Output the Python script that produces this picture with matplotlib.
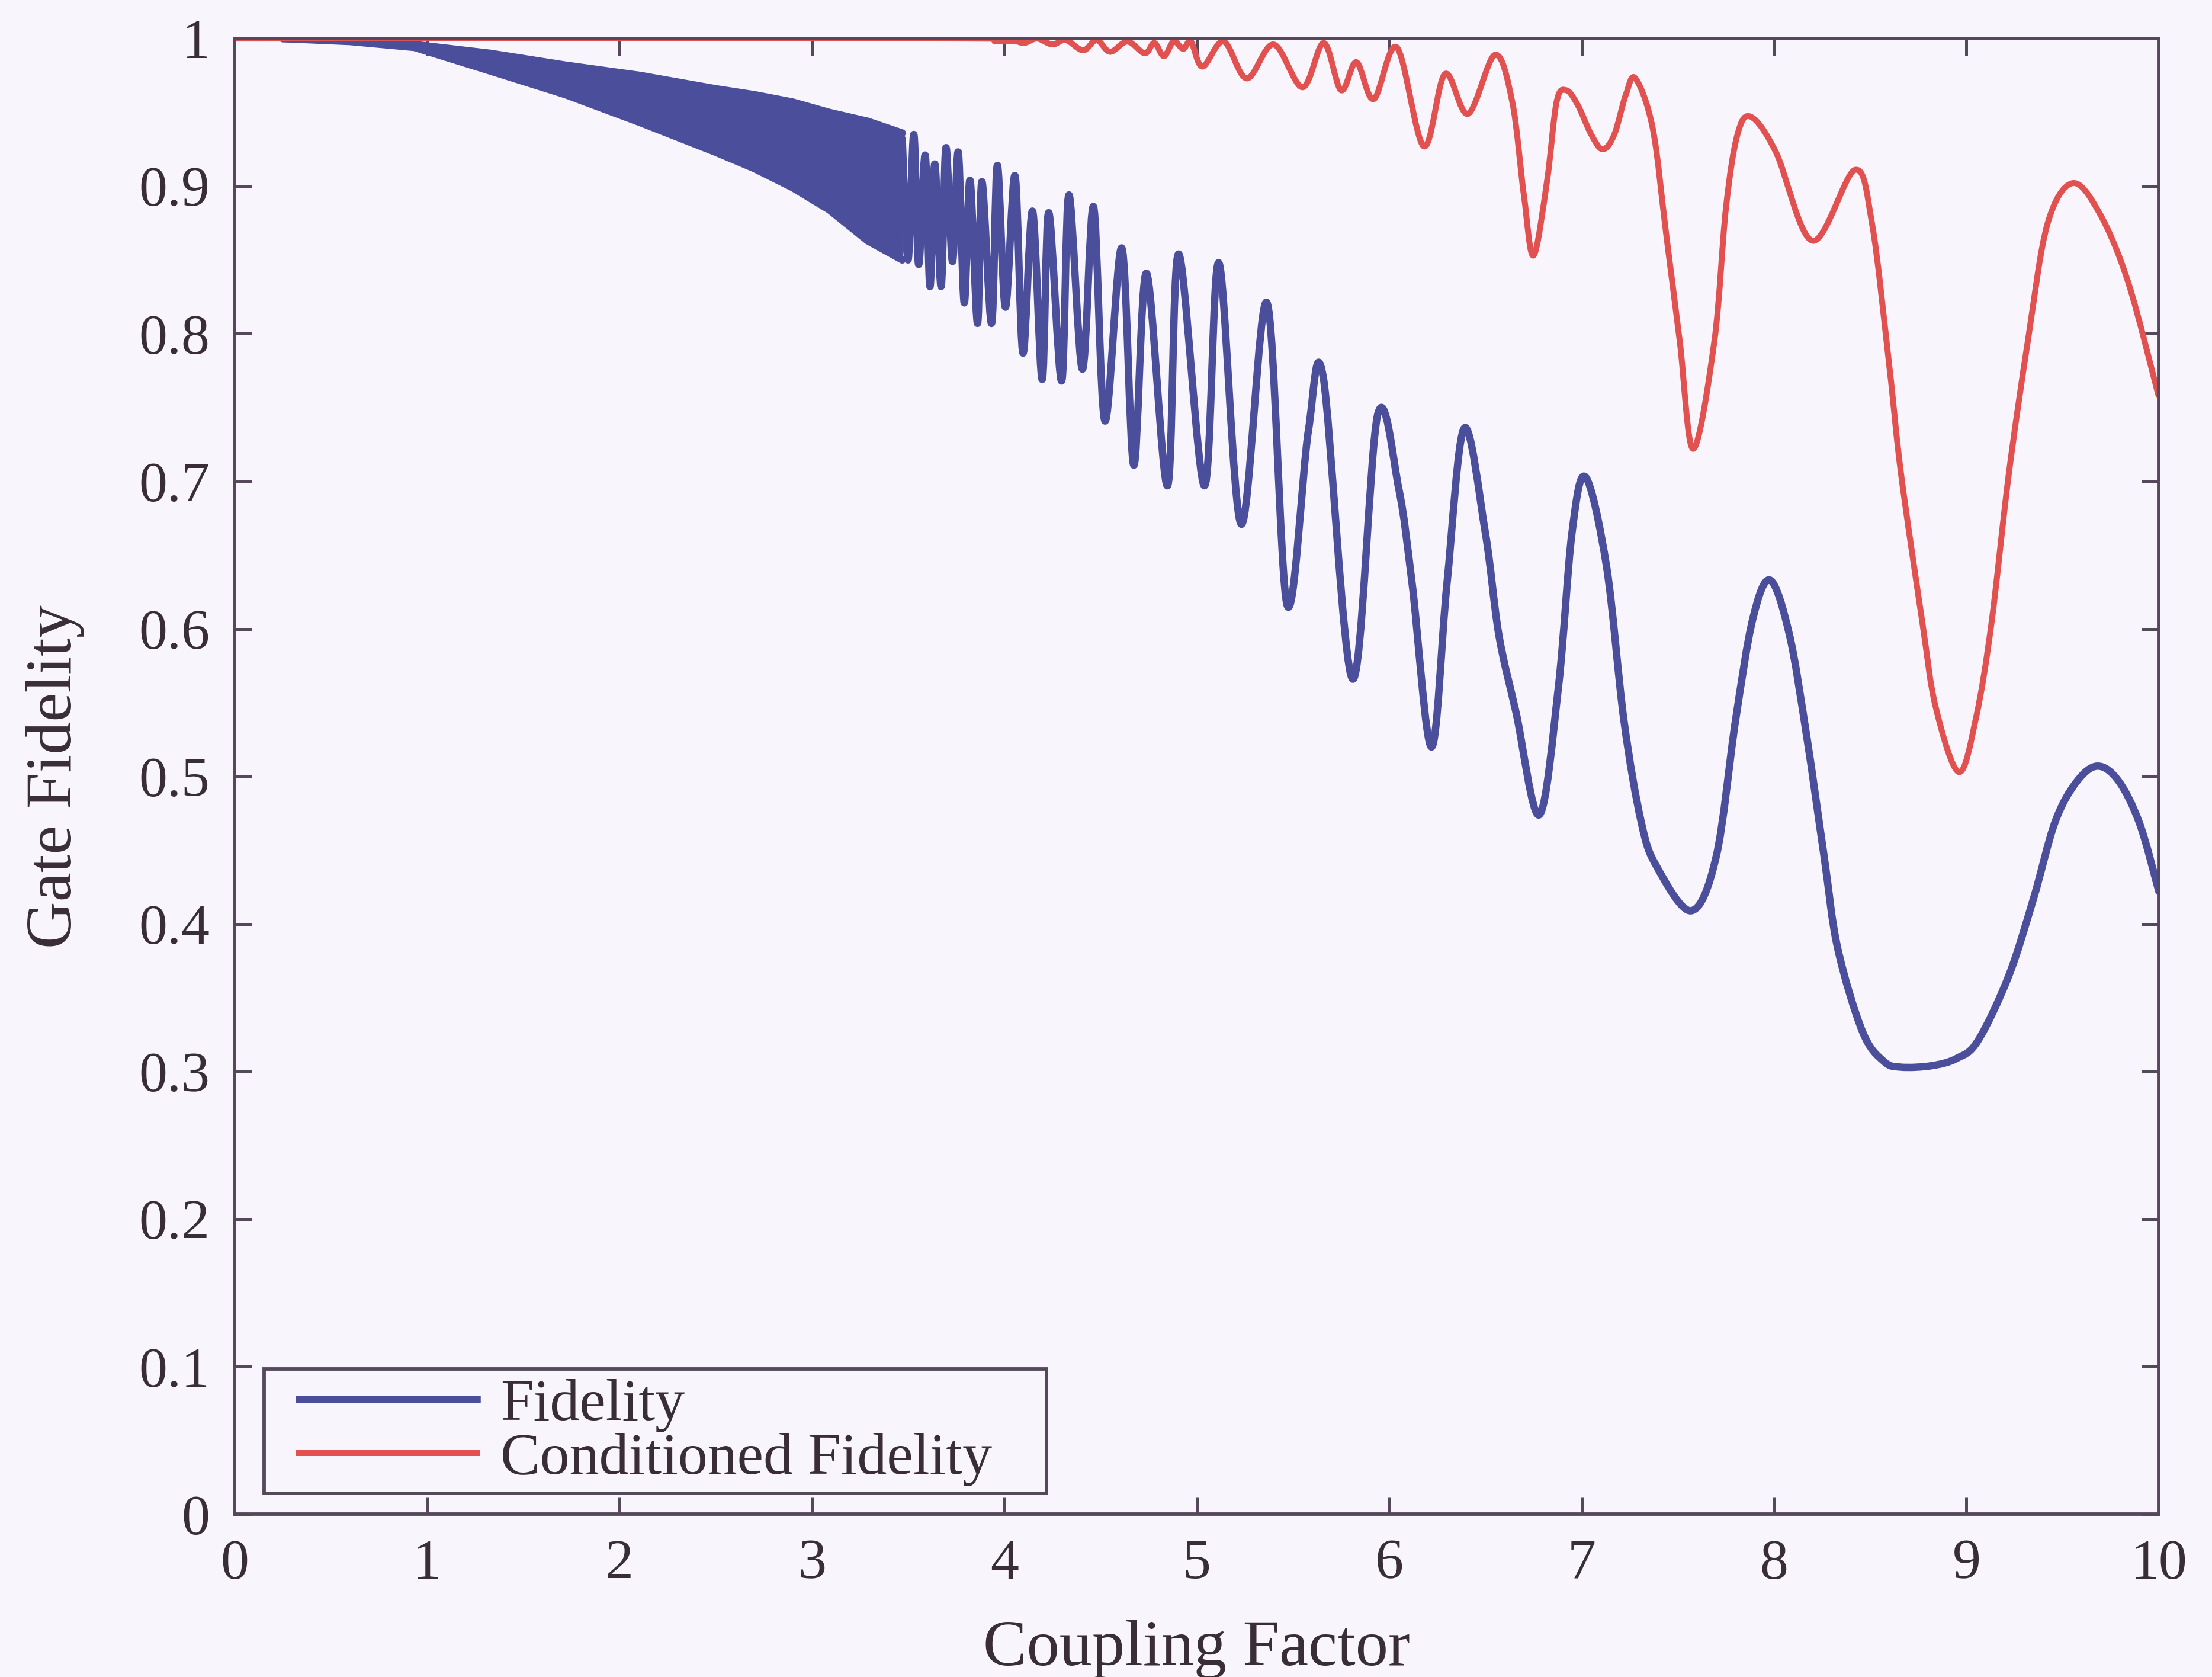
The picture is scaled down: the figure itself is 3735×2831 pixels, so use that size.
import numpy as np
import matplotlib
matplotlib.use("Agg")
import matplotlib.pyplot as plt
from matplotlib.path import Path
from matplotlib.patches import PathPatch, Rectangle

# ---- data ----
# dense oscillation part of "Fidelity": drawn as a band between its envelopes
band_x = [0.25, 0.6, 0.935, 1.33, 1.72, 2.11, 2.50, 2.70, 2.90, 3.09, 3.29, 3.47]
band_upper = [1.0, 0.999, 0.996, 0.990, 0.982, 0.975, 0.966, 0.962, 0.957, 0.950, 0.944, 0.936]
band_lower = [1.0, 0.998, 0.994, 0.978, 0.962, 0.943, 0.923, 0.912, 0.899, 0.884, 0.863, 0.850]

# resolved part of "Fidelity" (peaks, troughs and some points in between)
fid_x = [3.47, 3.50, 3.53, 3.555, 3.589, 3.614, 3.639, 3.672, 3.697, 3.731,
         3.761, 3.792, 3.822, 3.861, 3.884, 3.934, 3.964, 4.006, 4.056, 4.097, 4.147,
         4.197, 4.231, 4.298, 4.336, 4.406, 4.464, 4.523, 4.611, 4.673, 4.739, 4.848,
         4.906, 5.040, 5.115, 5.231, 5.365, 5.47, 5.58, 5.657, 5.81, 5.94, 6.05, 6.12,
         6.22, 6.30, 6.39, 6.50, 6.57, 6.66, 6.78, 6.88, 6.95, 7.02, 7.13, 7.22, 7.31,
         7.39, 7.57, 7.70, 7.80, 7.89, 7.98, 8.08, 8.17, 8.26, 8.33, 8.46, 8.57, 8.66,
         8.82, 8.95, 9.06, 9.22, 9.35, 9.46, 9.57, 9.68, 9.79, 9.90, 10.0]
fid_y = [0.932, 0.850, 0.935, 0.847, 0.921, 0.832, 0.915, 0.832, 0.926, 0.849,
         0.923, 0.821, 0.904, 0.807, 0.903, 0.807, 0.914, 0.818, 0.907, 0.787, 0.883,
         0.769, 0.882, 0.768, 0.894, 0.776, 0.886, 0.741, 0.858, 0.711, 0.841, 0.697,
         0.854, 0.697, 0.848, 0.671, 0.821, 0.616, 0.734, 0.771, 0.566, 0.745, 0.695, 0.630,
         0.520, 0.630, 0.736, 0.665, 0.596, 0.543, 0.474, 0.561, 0.665, 0.703, 0.642, 0.538, 0.469,
         0.439, 0.409, 0.446, 0.538, 0.607, 0.633, 0.596, 0.527, 0.446, 0.384, 0.327, 0.307, 0.303,
         0.304, 0.309, 0.321, 0.365, 0.418, 0.469, 0.496, 0.507, 0.497, 0.468, 0.422]

# "Conditioned Fidelity"
cond_x = [0.0, 3.80, 3.95, 4.02, 4.10, 4.17, 4.25, 4.32, 4.41, 4.48, 4.55, 4.64, 4.73,
          4.78, 4.83, 4.88, 4.93, 4.97, 5.03, 5.14, 5.26, 5.40, 5.55, 5.66, 5.75, 5.83,
          5.92, 6.04, 6.18, 6.29, 6.41, 6.55, 6.64, 6.70, 6.75, 6.82, 6.87, 6.92, 6.98,
          7.05, 7.11, 7.17, 7.23, 7.28, 7.37, 7.44, 7.51, 7.58, 7.69, 7.75, 7.81, 7.88,
          8.01, 8.20, 8.42, 8.51, 8.60, 8.66, 8.77, 8.84, 8.96, 9.05, 9.13, 9.22, 9.32,
          9.42, 9.55, 9.69, 9.84, 10.0]
cond_y = [1.0, 1.0, 0.998, 1.0, 0.997, 1.0, 0.996, 0.999, 0.992, 0.999, 0.991, 0.998, 0.990,
          0.997, 0.988, 0.998, 0.993, 0.998, 0.981, 0.998, 0.973, 0.996, 0.967, 0.997, 0.965, 0.984,
          0.959, 0.994, 0.927, 0.976, 0.949, 0.989, 0.957, 0.894, 0.853, 0.903, 0.957, 0.965, 0.955,
          0.935, 0.925, 0.935, 0.962, 0.973, 0.939, 0.867, 0.795, 0.722, 0.795, 0.885, 0.935, 0.947,
          0.923, 0.863, 0.911, 0.874, 0.777, 0.705, 0.605, 0.547, 0.503, 0.540, 0.604, 0.705, 0.796,
          0.874, 0.902, 0.882, 0.835, 0.757]

x_ticks = list(range(0, 11))
y_ticks = [0, 0.1, 0.2, 0.3, 0.4, 0.5, 0.6, 0.7, 0.8, 0.9, 1]
y_ticklabels = ["0", "0.1", "0.2", "0.3", "0.4", "0.5", "0.6", "0.7", "0.8", "0.9", "1"]

blue = "#4b4f9b"
red = "#e0514f"
axis_col = "#55485a"
text_col = "#3a2e36"
bg = "#f8f6fc"


def smooth_path(xs, ys):
    # curve through the read points (Catmull-Rom drawn as cubic Beziers)
    pts = np.column_stack([xs, ys]).astype(float)
    n = len(pts)
    verts = [pts[0]]
    codes = [Path.MOVETO]
    for i in range(n - 1):
        p0 = pts[i - 1] if i > 0 else pts[i]
        p1, p2 = pts[i], pts[i + 1]
        p3 = pts[i + 2] if i + 2 < n else pts[i + 1]
        verts += [p1 + (p2 - p0) / 6, p2 - (p3 - p1) / 6, p2]
        codes += [Path.CURVE4] * 3
    return Path(verts, codes)


plt.rcParams["font.family"] = ["Liberation Serif", "DejaVu Serif"]

fig = plt.figure(figsize=(3735 / 300, 2831 / 300), dpi=300, facecolor=bg)
ax = fig.add_axes([0.106, 0.097, 0.870, 0.880])
ax.set_facecolor(bg)

lw_b, lw_r = 3.0, 2.4
ax.fill_between(band_x, band_lower, band_upper, color=blue, lw=0)
ax.plot(band_x, band_upper, color=blue, lw=lw_b, solid_capstyle="round")
ax.plot(band_x, band_lower, color=blue, lw=lw_b, solid_capstyle="round")
ax.add_patch(PathPatch(smooth_path(fid_x, fid_y), fill=False, ec=blue, lw=lw_b,
                       joinstyle="round", capstyle="round"))
ax.add_patch(PathPatch(smooth_path(cond_x, cond_y), fill=False, ec=red, lw=lw_r,
                       joinstyle="round", capstyle="butt", zorder=3))
h1, = ax.plot([], [], color=blue, lw=lw_b, label="Fidelity")
h2, = ax.plot([], [], color=red, lw=lw_r, label="Conditioned Fidelity")

ax.set_xlim(0, 10)
ax.set_ylim(0, 1)
ax.set_xticks(x_ticks)
ax.set_yticks(y_ticks)
ax.set_yticklabels(y_ticklabels)
ax.tick_params(direction="in", top=True, right=True, length=7, width=1.2,
               labelsize=23, colors=axis_col, labelcolor=text_col, pad=10)
for s in ax.spines.values():
    s.set_color(axis_col)
    s.set_linewidth(1.4)
    s.set_zorder(4)

ax.set_xlabel("Coupling Factor", fontsize=26.5, color=text_col, labelpad=12)
ax.set_ylabel("Gate Fidelity", fontsize=26.5, color=text_col, labelpad=22)

# legend box (MATLAB style, extra room on the right)
ax.add_patch(Rectangle((0.0154, 0.0144), 0.4066, 0.0842, transform=ax.transAxes,
                       fc=bg, ec=axis_col, lw=1.4, zorder=5))
leg = ax.legend(handles=[h1, h2], loc="lower left", bbox_to_anchor=(0.0337, 0.019),
                borderaxespad=0, borderpad=0, frameon=False, fontsize=24,
                handlelength=3.0, handletextpad=0.4, labelspacing=0.0)
leg.set_zorder(6)
for t in leg.get_texts():
    t.set_color(text_col)

fig.savefig("out.png", dpi=300, facecolor=bg)
